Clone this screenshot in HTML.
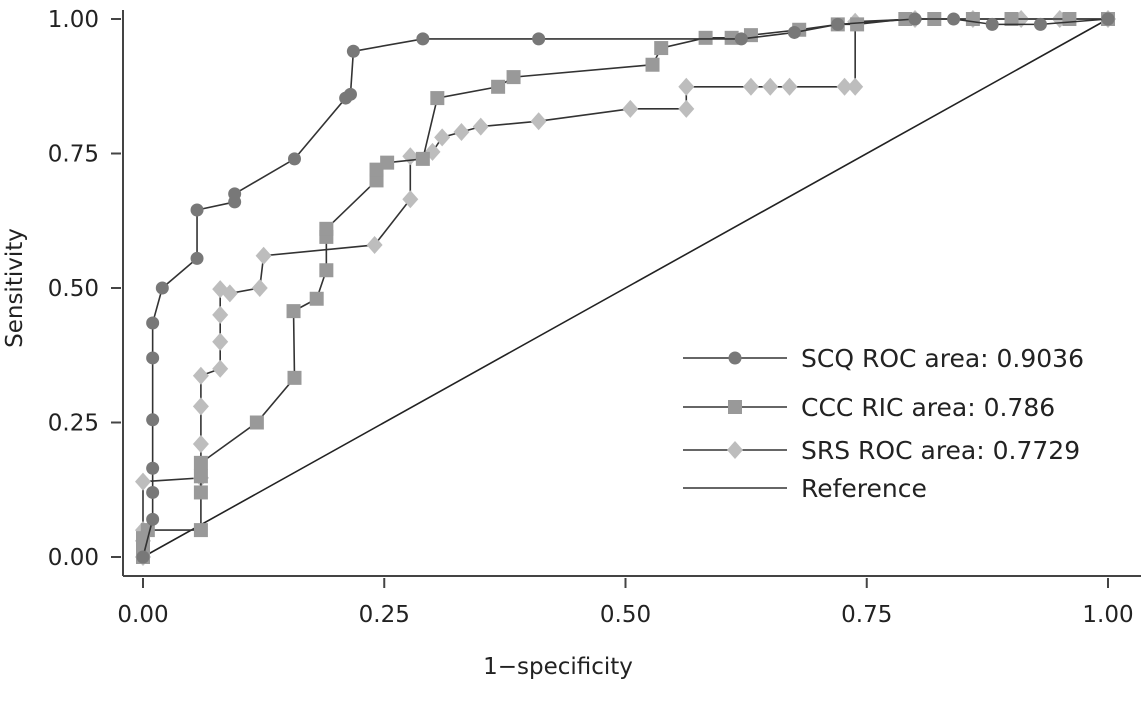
<!DOCTYPE html>
<html><head><meta charset="utf-8">
<style>
body{margin:0;background:#fff;}
svg{display:block;font-family:"DejaVu Sans","Liberation Sans",sans-serif;}
</style></head>
<body>
<svg id="chart" width="1141" height="705" viewBox="0 0 1141 705">
  <g id="axes"></g>
  <g id="series"></g>
  <g id="legend"></g>
</svg>
<script>
const xTicks = [0, 0.25, 0.5, 0.75, 1];
const xTickLabels = ["0.00", "0.25", "0.50", "0.75", "1.00"];
const yTicks = [0, 0.25, 0.5, 0.75, 1];
const yTickLabels = ["0.00", "0.25", "0.50", "0.75", "1.00"];
const scqX = [0, 0.01, 0.01, 0.01, 0.01, 0.01, 0.01, 0.02, 0.056, 0.056, 0.095, 0.095, 0.157, 0.21, 0.215, 0.218, 0.29, 0.41, 0.62, 0.675, 0.72, 0.80, 0.84, 0.88, 0.93, 1];
const scqY = [0, 0.07, 0.12, 0.165, 0.255, 0.37, 0.435, 0.50, 0.555, 0.645, 0.66, 0.675, 0.74, 0.853, 0.86, 0.94, 0.963, 0.963, 0.963, 0.975, 0.99, 1, 1, 0.99, 0.99, 1];
const cccX = [0, 0, 0, 0.005, 0.06, 0.06, 0.06, 0.06, 0.118, 0.157, 0.156, 0.18, 0.19, 0.19, 0.19, 0.242, 0.242, 0.253, 0.29, 0.305, 0.368, 0.384, 0.528, 0.537, 0.583, 0.61, 0.63, 0.68, 0.72, 0.74, 0.79, 0.82, 0.86, 0.9, 0.96, 1];
const cccY = [0, 0.015, 0.035, 0.05, 0.05, 0.12, 0.15, 0.175, 0.25, 0.333, 0.457, 0.48, 0.533, 0.595, 0.61, 0.70, 0.72, 0.733, 0.74, 0.853, 0.874, 0.892, 0.915, 0.946, 0.965, 0.965, 0.97, 0.98, 0.99, 0.99, 1, 1, 1, 1, 1, 1];
const srsX = [0, 0, 0, 0, 0.06, 0.06, 0.06, 0.06, 0.08, 0.08, 0.08, 0.08, 0.09, 0.121, 0.125, 0.24, 0.277, 0.277, 0.30, 0.31, 0.33, 0.35, 0.41, 0.505, 0.563, 0.563, 0.63, 0.65, 0.67, 0.727, 0.738, 0.738, 0.80, 0.86, 0.91, 0.95, 1];
const srsY = [0, 0.03, 0.05, 0.14, 0.147, 0.21, 0.28, 0.337, 0.35, 0.40, 0.45, 0.498, 0.49, 0.50, 0.56, 0.58, 0.665, 0.745, 0.753, 0.78, 0.79, 0.80, 0.81, 0.833, 0.833, 0.874, 0.874, 0.874, 0.874, 0.874, 0.874, 0.995, 1, 1, 1, 1, 1];
const legendLabels = ["SCQ ROC area: 0.9036", "CCC RIC area: 0.786", "SRS ROC area: 0.7729", "Reference"];

const NS = "http://www.w3.org/2000/svg";
const X0 = 143, X1 = 1108, Y0 = 557, Y1 = 19;
function sx(v){ return X0 + v * (X1 - X0); }
function sy(v){ return Y0 - v * (Y0 - Y1); }
function mk(tag, attrs, parent){
  const e = document.createElementNS(NS, tag);
  for (const k in attrs) e.setAttribute(k, attrs[k]);
  parent.appendChild(e);
  return e;
}
const axes = document.getElementById('axes');
const ser = document.getElementById('series');
const leg = document.getElementById('legend');

let yl = mk('line', {x1:123, y1:10, x2:123, y2:576, stroke:'#444', 'stroke-width':2}, axes);


let xl = mk('line', {x1:123, y1:576, x2:1141, y2:576, stroke:'#444', 'stroke-width':2}, axes);



yTicks.forEach((v, i) => {
  const t = mk('line', {x1:111, y1:sy(v), x2:121, y2:sy(v), stroke:'#444', 'stroke-width':2}, axes);
  
  
  const tx = mk('text', {x:99, y:sy(v)+8, 'text-anchor':'end', 'font-size':23, fill:'#222'}, axes);
  tx.textContent = yTickLabels[i];
  
  
});
xTicks.forEach((v, i) => {
  const t = mk('line', {x1:sx(v), y1:578, x2:sx(v), y2:588, stroke:'#444', 'stroke-width':2}, axes);
  
  
  const tx = mk('text', {x:sx(v), y:622, 'text-anchor':'middle', 'font-size':23, fill:'#222'}, axes);
  tx.textContent = xTickLabels[i];
  
  
});
let xt = mk('text', {x:558, y:674, 'text-anchor':'middle', 'font-size':23, fill:'#222'}, axes);
xt.textContent = "1\u2212specificity";


let yt = mk('text', {x:0, y:0, 'text-anchor':'middle', 'font-size':23, fill:'#222', transform:'translate(22,288) rotate(-90)'}, axes);
yt.textContent = "Sensitivity";



let ref = mk('line', {x1:sx(0), y1:sy(0), x2:sx(1), y2:sy(1), stroke:'#222', 'stroke-width':1.6}, ser);



function marker(type, cx, cy, fill, parent){
  let m;
  if (type === 'circle') m = mk('circle', {cx:cx, cy:cy, r:6.5, fill:fill}, parent);
  else if (type === 'square') m = mk('rect', {x:cx-7, y:cy-7, width:14, height:14, fill:fill}, parent);
  else m = mk('polygon', {points:`${cx},${cy-9} ${cx+8},${cy} ${cx},${cy+9} ${cx-8},${cy}`, fill:fill}, parent);
  return m;
}
function drawSeries(xs, ys, type, fill, name){
  const g = mk('g', {}, ser);
  
  
  const pts = xs.map((x, i) => sx(x) + ',' + sy(ys[i])).join(' ');
  const pl = mk('polyline', {points:pts, fill:'none', stroke:'#333', 'stroke-width':1.6}, g);
  
  
  xs.forEach((x, i) => {
    const m = marker(type, sx(x), sy(ys[i]), fill, g);
    
    
  });
}
drawSeries(srsX, srsY, 'diamond', '#bdbdbd', 'srs-series');
drawSeries(cccX, cccY, 'square', '#999', 'ccc-series');
drawSeries(scqX, scqY, 'circle', '#787878', 'scq-series');

const legY = [358, 407, 450, 488];
const legType = ['circle', 'square', 'diamond', null];
const legFill = ['#787878', '#999', '#bdbdbd', null];
legendLabels.forEach((lab, i) => {
  const g = mk('g', {}, leg);
  
  
  mk('line', {x1:683, y1:legY[i], x2:787, y2:legY[i], stroke:'#333', 'stroke-width':1.6}, g);
  if (legType[i]) marker(legType[i], 735, legY[i], legFill[i], g);
  const t = mk('text', {x:801, y:legY[i]+9, 'font-size':25, fill:'#222'}, g);
  t.textContent = lab;
});
</script>
</body></html>
